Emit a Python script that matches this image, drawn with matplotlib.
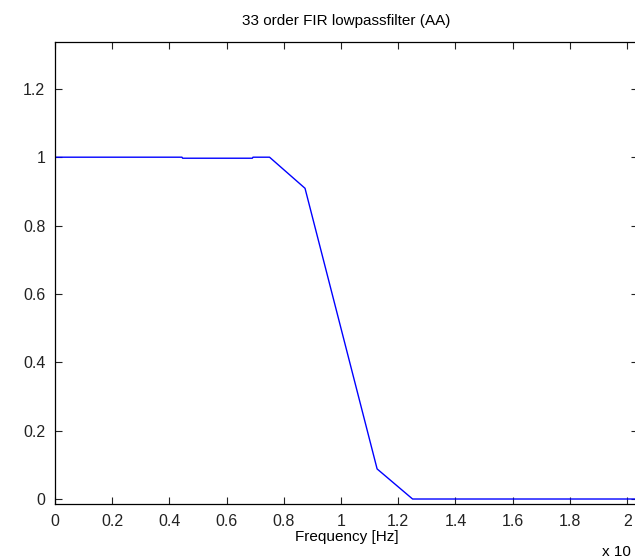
import numpy as np
import matplotlib
matplotlib.use("Agg")
import matplotlib.pyplot as plt
from matplotlib.ticker import FuncFormatter, MultipleLocator

# magnitude response (frequency in Hz)
freq = [0, 4440, 4460, 6900, 6920, 7500, 8740, 11260, 12500, 20500]
gain = [1.0, 1.0, 0.997, 0.997, 1.0, 1.0, 0.909, 0.088, 0.0, 0.0]

plt.rcParams["font.family"] = ["Liberation Sans", "DejaVu Sans"]
plt.rcParams["font.size"] = 11

fig = plt.figure(figsize=(6.35, 5.59), dpi=100)
ax = fig.add_axes([55 / 635, 55 / 559, 583 / 635, 462 / 559])

ax.plot(freq, gain, color="#0000ff", lw=1.0)

ax.set_xlim(0, 20380)
ax.set_ylim(-0.0146, 1.337)
ax.xaxis.set_major_locator(MultipleLocator(2000))
ax.yaxis.set_major_locator(MultipleLocator(0.2))
ax.xaxis.set_major_formatter(FuncFormatter(lambda v, p: f"{v / 1e4:g}"))
ax.yaxis.set_major_formatter(FuncFormatter(lambda v, p: f"{v:g}"))
ax.tick_params(direction="in", length=5, width=0.8, top=True, right=True,
               pad=7, labelsize=11.5, colors="#222222")
for sp in ax.spines.values():
    sp.set_linewidth(0.9)

ax.set_title("33 order FIR lowpassfilter (AA)", fontsize=11, pad=12)
ax.set_xlabel("Frequency [Hz]", fontsize=11, labelpad=1)
# exponent of the x scale sits past the right edge in the reference
fig.text(602 / 635, 1 - 552 / 559, "x 10", fontsize=11,
         va="center", ha="left")

fig.savefig("out.png", dpi=100)
